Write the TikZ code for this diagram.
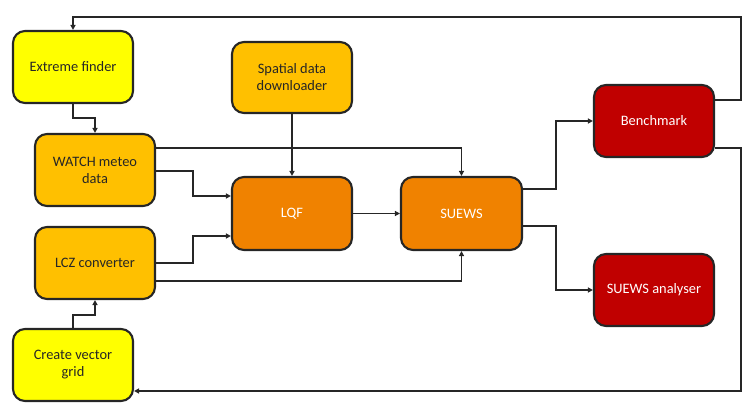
\documentclass[tikz,border=0pt]{standalone}
\usepackage{fontspec}
\setmainfont{Carlito}
\usetikzlibrary{arrows.meta}
\definecolor{cyel}{HTML}{FFFF00}
\definecolor{cgold}{HTML}{FFC000}
\definecolor{corg}{HTML}{F08200}
\definecolor{cred}{HTML}{C00000}
\begin{document}
\begin{tikzpicture}[x=1pt,y=-1pt,
  box/.style={draw=black!85,line width=2.1pt,rounded corners=12pt,minimum width=120pt,minimum height=72pt,align=center,inner sep=2pt,font=\fontsize{14.4}{17}\selectfont},
  ybox/.style={box,fill=cyel,text=black!85},
  gbox/.style={box,fill=cgold,text=black!85},
  obox/.style={box,fill=corg,text=white},
  rbox/.style={box,fill=cred,text=white},
  arr/.style={line width=1.8pt,draw=black!85,-{Triangle[length=5pt,width=5pt]}}]
\useasboundingbox (0,0) rectangle (750,406);
\node[ybox] (ef) at (73,67) {Extreme finder};
\node[gbox,minimum height=71pt] (sdd) at (292,77.5) {Spatial data\\downloader};
\node[gbox] (watch) at (95,170) {WATCH meteo\\data};
\node[obox,minimum height=73pt] (lqf) at (292,213.5) {LQF};
\node[gbox] (lcz) at (95,263) {LCZ converter};
\node[ybox] (cvg) at (73,365) {Create vector\\grid};
\node[obox,minimum height=73pt,minimum width=121pt] (suews) at (461.5,213.5) {SUEWS};
\node[rbox] (bench) at (654,121) {Benchmark};
\node[rbox] (ana) at (654,290) {SUEWS analyser};

\draw[arr] (bench.east |- 0,100) -- (741,100) -- (741,17) -| (ef.north);
\draw[arr] (bench.east |- 0,148) -- (741,148) |- (cvg.east |- 0,391);
\draw[arr] (ef.south) |- (95,118) -- (watch.north);
\draw[arr] (cvg.north) |- (95,315) -- (lcz.south);
\draw[arr] (watch.east |- 0,148) -| (suews.north);
\draw[arr] (watch.east |- 0,171) -- (193,171) |- (lqf.west |- 0,196);
\draw[arr] (lcz.east |- 0,263) -- (193,263) |- (lqf.west |- 0,236);
\draw[arr] (lcz.east |- 0,281) -| (suews.south);
\draw[arr] (sdd.south) -- (lqf.north);
\draw[arr] (lqf.east) -- (suews.west);
\draw[arr] (suews.east |- 0,189) -- (556,189) |- (bench.west);
\draw[arr] (suews.east |- 0,226) -- (556,226) |- (ana.west);
\end{tikzpicture}
\end{document}
